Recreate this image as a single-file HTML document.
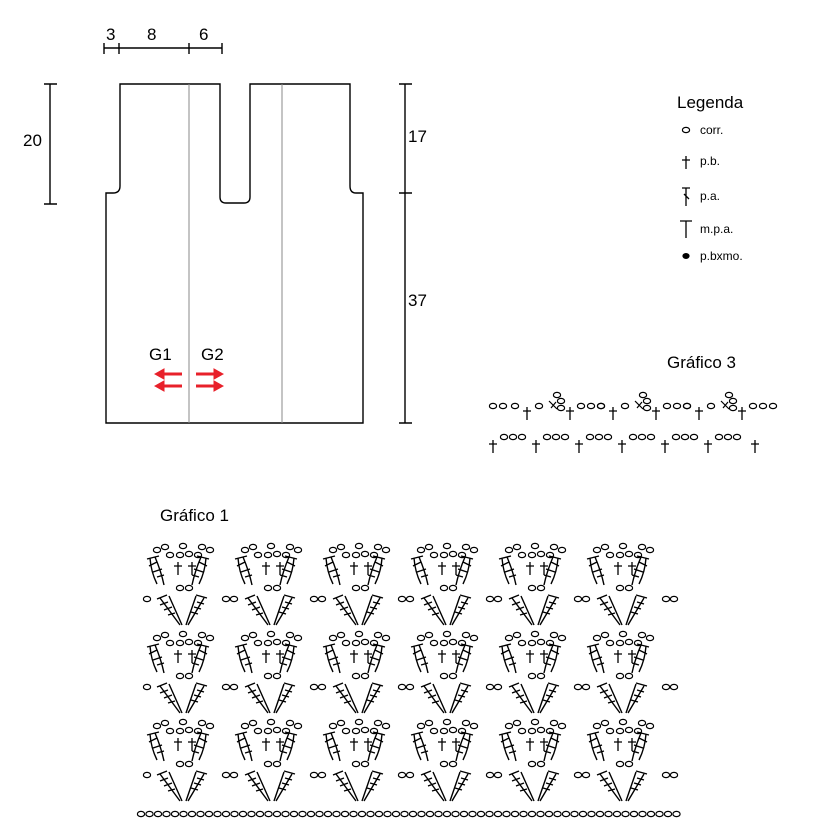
<!DOCTYPE html>
<html><head><meta charset="utf-8"><style>
body{margin:0;background:#fff}
svg{display:block;font-family:"Liberation Sans",sans-serif}
</style></head><body>
<svg width="813" height="836" viewBox="0 0 813 836">
<defs>
<g id="ov"><ellipse cx="0" cy="0" rx="3.6" ry="2.6" fill="none" stroke="#000" stroke-width="1.2"/></g>
<g id="pb"><path d="M0 -6V7M-4 -2H4" stroke="#000" stroke-width="1.3" fill="none"/></g>
<g id="motif" stroke="#000" stroke-width="1.4" fill="none">
<use href="#ov" x="157" y="550"/><use href="#ov" x="165" y="547"/><use href="#ov" x="183" y="546"/><use href="#ov" x="202" y="547"/><use href="#ov" x="210" y="550"/>
<use href="#ov" x="170" y="555"/><use href="#ov" x="180" y="555"/><use href="#ov" x="189" y="554"/><use href="#ov" x="198" y="555"/>
<use href="#pb" x="178" y="568"/><use href="#pb" x="192" y="568"/>
<path d="M147 559L159 556M150 558Q151 572 157 584M155 557Q161 571 164 585M149 566L157 562M153 572L162 569M157 577L164 575"/>
<path d="M209 559L197 556M206 558Q205 572 199 584M201 557Q195 571 192 585M207 566L199 562M203 572L194 569M199 577L192 575"/>
<use href="#ov" x="180" y="588"/><use href="#ov" x="189" y="588"/>
<path d="M157 599L167 595M160 598L180 625M169 596L182 625M160 605L168 602M164 610L172 607M168 615L175 613"/>
<path d="M207 598L196 595M204 598L188 625M196 596L186 625M204 604L197 602M201 609L194 607M198 614L191 612"/>
<use href="#ov" x="226" y="599"/><use href="#ov" x="234" y="599"/>
</g>
<g id="m3"><use href="#ov" x="0" y="0"/><use href="#pb" x="12" y="7"/><use href="#ov" x="24" y="0"/>
<path d="M34 -5L42 3M36 2L41 -4" stroke="#000" stroke-width="1.2"/><use href="#ov" x="42" y="-11"/><use href="#ov" x="46" y="-5"/><use href="#ov" x="46" y="2"/>
<use href="#pb" x="55" y="7"/><use href="#ov" x="66" y="0"/><use href="#ov" x="76" y="0"/><use href="#ov" x="86" y="0"/></g>
<g id="r3"><use href="#pb" x="0" y="6"/><use href="#ov" x="11" y="-3"/><use href="#ov" x="20" y="-3"/><use href="#ov" x="29" y="-3"/></g>
</defs>

<g fill="none" stroke="#000" stroke-width="1.4">
<path d="M120 84H220V197Q220 203 226 203H244Q250 203 250 197V84H350V186Q350 193 356 193H363V423H106V193H113Q120 193 120 186Z"/>
<path d="M50 84V204M44 84H57M44 204H57"/>
<path d="M405 84V423M399 84H412M399 193H412M399 423H412"/>
<path d="M104 48H222M104 43V54M119 43V54M189 43V54M222 43V54"/>
</g>
<path d="M189 84V423M282 84V423" stroke="#888" stroke-width="1"/>
<g font-size="17" fill="#000">
<text x="23" y="146">20</text><text x="408" y="142">17</text><text x="408" y="306">37</text>
<text x="106" y="40">3</text><text x="147" y="40">8</text><text x="199" y="40">6</text>
<text x="149" y="360">G1</text><text x="201" y="360">G2</text>
<text x="677" y="108">Legenda</text>
<text x="667" y="368">Gráfico 3</text>
<text x="160" y="521">Gráfico 1</text>
</g>
<g stroke="#e8202a" stroke-width="3" fill="#e8202a">
<path d="M164 374H182M164 386H182M196 374H214M196 386H214"/>
<path d="M155 374L164 369V379ZM155 386L164 381V391ZM223 374L214 369V379ZM223 386L214 381V391Z" stroke-width="1"/>
</g>
<g font-size="12" fill="#000">
<use href="#ov" x="686" y="130"/><text x="700" y="134">corr.</text>
<use href="#pb" x="686" y="162"/><text x="700" y="165">p.b.</text>
<path d="M682 188H690M686 188V206M684 194L689 199" stroke="#000" stroke-width="1.3"/><text x="700" y="200">p.a.</text>
<path d="M680 221H692M686 221V238" stroke="#000" stroke-width="1.3"/><text x="700" y="233">m.p.a.</text>
<ellipse cx="686" cy="256" rx="3.6" ry="3" fill="#000"/><text x="700" y="260">p.bxmo.</text>
</g>
<use href="#ov" x="493" y="406"/><use href="#ov" x="503" y="406"/>
<use href="#m3" x="515" y="406"/><use href="#m3" x="601" y="406"/><use href="#m3" x="687" y="406"/>
<use href="#r3" x="493" y="440"/><use href="#r3" x="536" y="440"/><use href="#r3" x="579" y="440"/><use href="#r3" x="622" y="440"/><use href="#r3" x="665" y="440"/><use href="#r3" x="708" y="440"/><use href="#pb" x="755" y="446"/>
<g id="row1"><use href="#ov" x="147" y="599"/><use href="#motif"/><use href="#motif" x="88"/><use href="#motif" x="176"/><use href="#motif" x="264"/><use href="#motif" x="352"/><use href="#motif" x="440"/></g>
<use href="#row1" y="88"/><use href="#row1" y="176"/>
<g>
<use href="#ov" x="141" y="814"/><use href="#ov" x="149.5" y="814"/><use href="#ov" x="158" y="814"/><use href="#ov" x="166.5" y="814"/><use href="#ov" x="175" y="814"/><use href="#ov" x="183.5" y="814"/><use href="#ov" x="192" y="814"/><use href="#ov" x="200.5" y="814"/><use href="#ov" x="209" y="814"/><use href="#ov" x="217.5" y="814"/><use href="#ov" x="226" y="814"/><use href="#ov" x="234.5" y="814"/><use href="#ov" x="243" y="814"/><use href="#ov" x="251.5" y="814"/><use href="#ov" x="260" y="814"/><use href="#ov" x="268.5" y="814"/><use href="#ov" x="277" y="814"/><use href="#ov" x="285.5" y="814"/><use href="#ov" x="294" y="814"/><use href="#ov" x="302.5" y="814"/><use href="#ov" x="311" y="814"/><use href="#ov" x="319.5" y="814"/><use href="#ov" x="328" y="814"/><use href="#ov" x="336.5" y="814"/><use href="#ov" x="345" y="814"/><use href="#ov" x="353.5" y="814"/><use href="#ov" x="362" y="814"/><use href="#ov" x="370.5" y="814"/><use href="#ov" x="379" y="814"/><use href="#ov" x="387.5" y="814"/><use href="#ov" x="396" y="814"/><use href="#ov" x="404.5" y="814"/><use href="#ov" x="413" y="814"/><use href="#ov" x="421.5" y="814"/><use href="#ov" x="430" y="814"/><use href="#ov" x="438.5" y="814"/><use href="#ov" x="447" y="814"/><use href="#ov" x="455.5" y="814"/><use href="#ov" x="464" y="814"/><use href="#ov" x="472.5" y="814"/><use href="#ov" x="481" y="814"/><use href="#ov" x="489.5" y="814"/><use href="#ov" x="498" y="814"/><use href="#ov" x="506.5" y="814"/><use href="#ov" x="515" y="814"/><use href="#ov" x="523.5" y="814"/><use href="#ov" x="532" y="814"/><use href="#ov" x="540.5" y="814"/><use href="#ov" x="549" y="814"/><use href="#ov" x="557.5" y="814"/><use href="#ov" x="566" y="814"/><use href="#ov" x="574.5" y="814"/><use href="#ov" x="583" y="814"/><use href="#ov" x="591.5" y="814"/><use href="#ov" x="600" y="814"/><use href="#ov" x="608.5" y="814"/><use href="#ov" x="617" y="814"/><use href="#ov" x="625.5" y="814"/><use href="#ov" x="634" y="814"/><use href="#ov" x="642.5" y="814"/><use href="#ov" x="651" y="814"/><use href="#ov" x="659.5" y="814"/><use href="#ov" x="668" y="814"/><use href="#ov" x="676.5" y="814"/>
</g>
</svg>
</body></html>
